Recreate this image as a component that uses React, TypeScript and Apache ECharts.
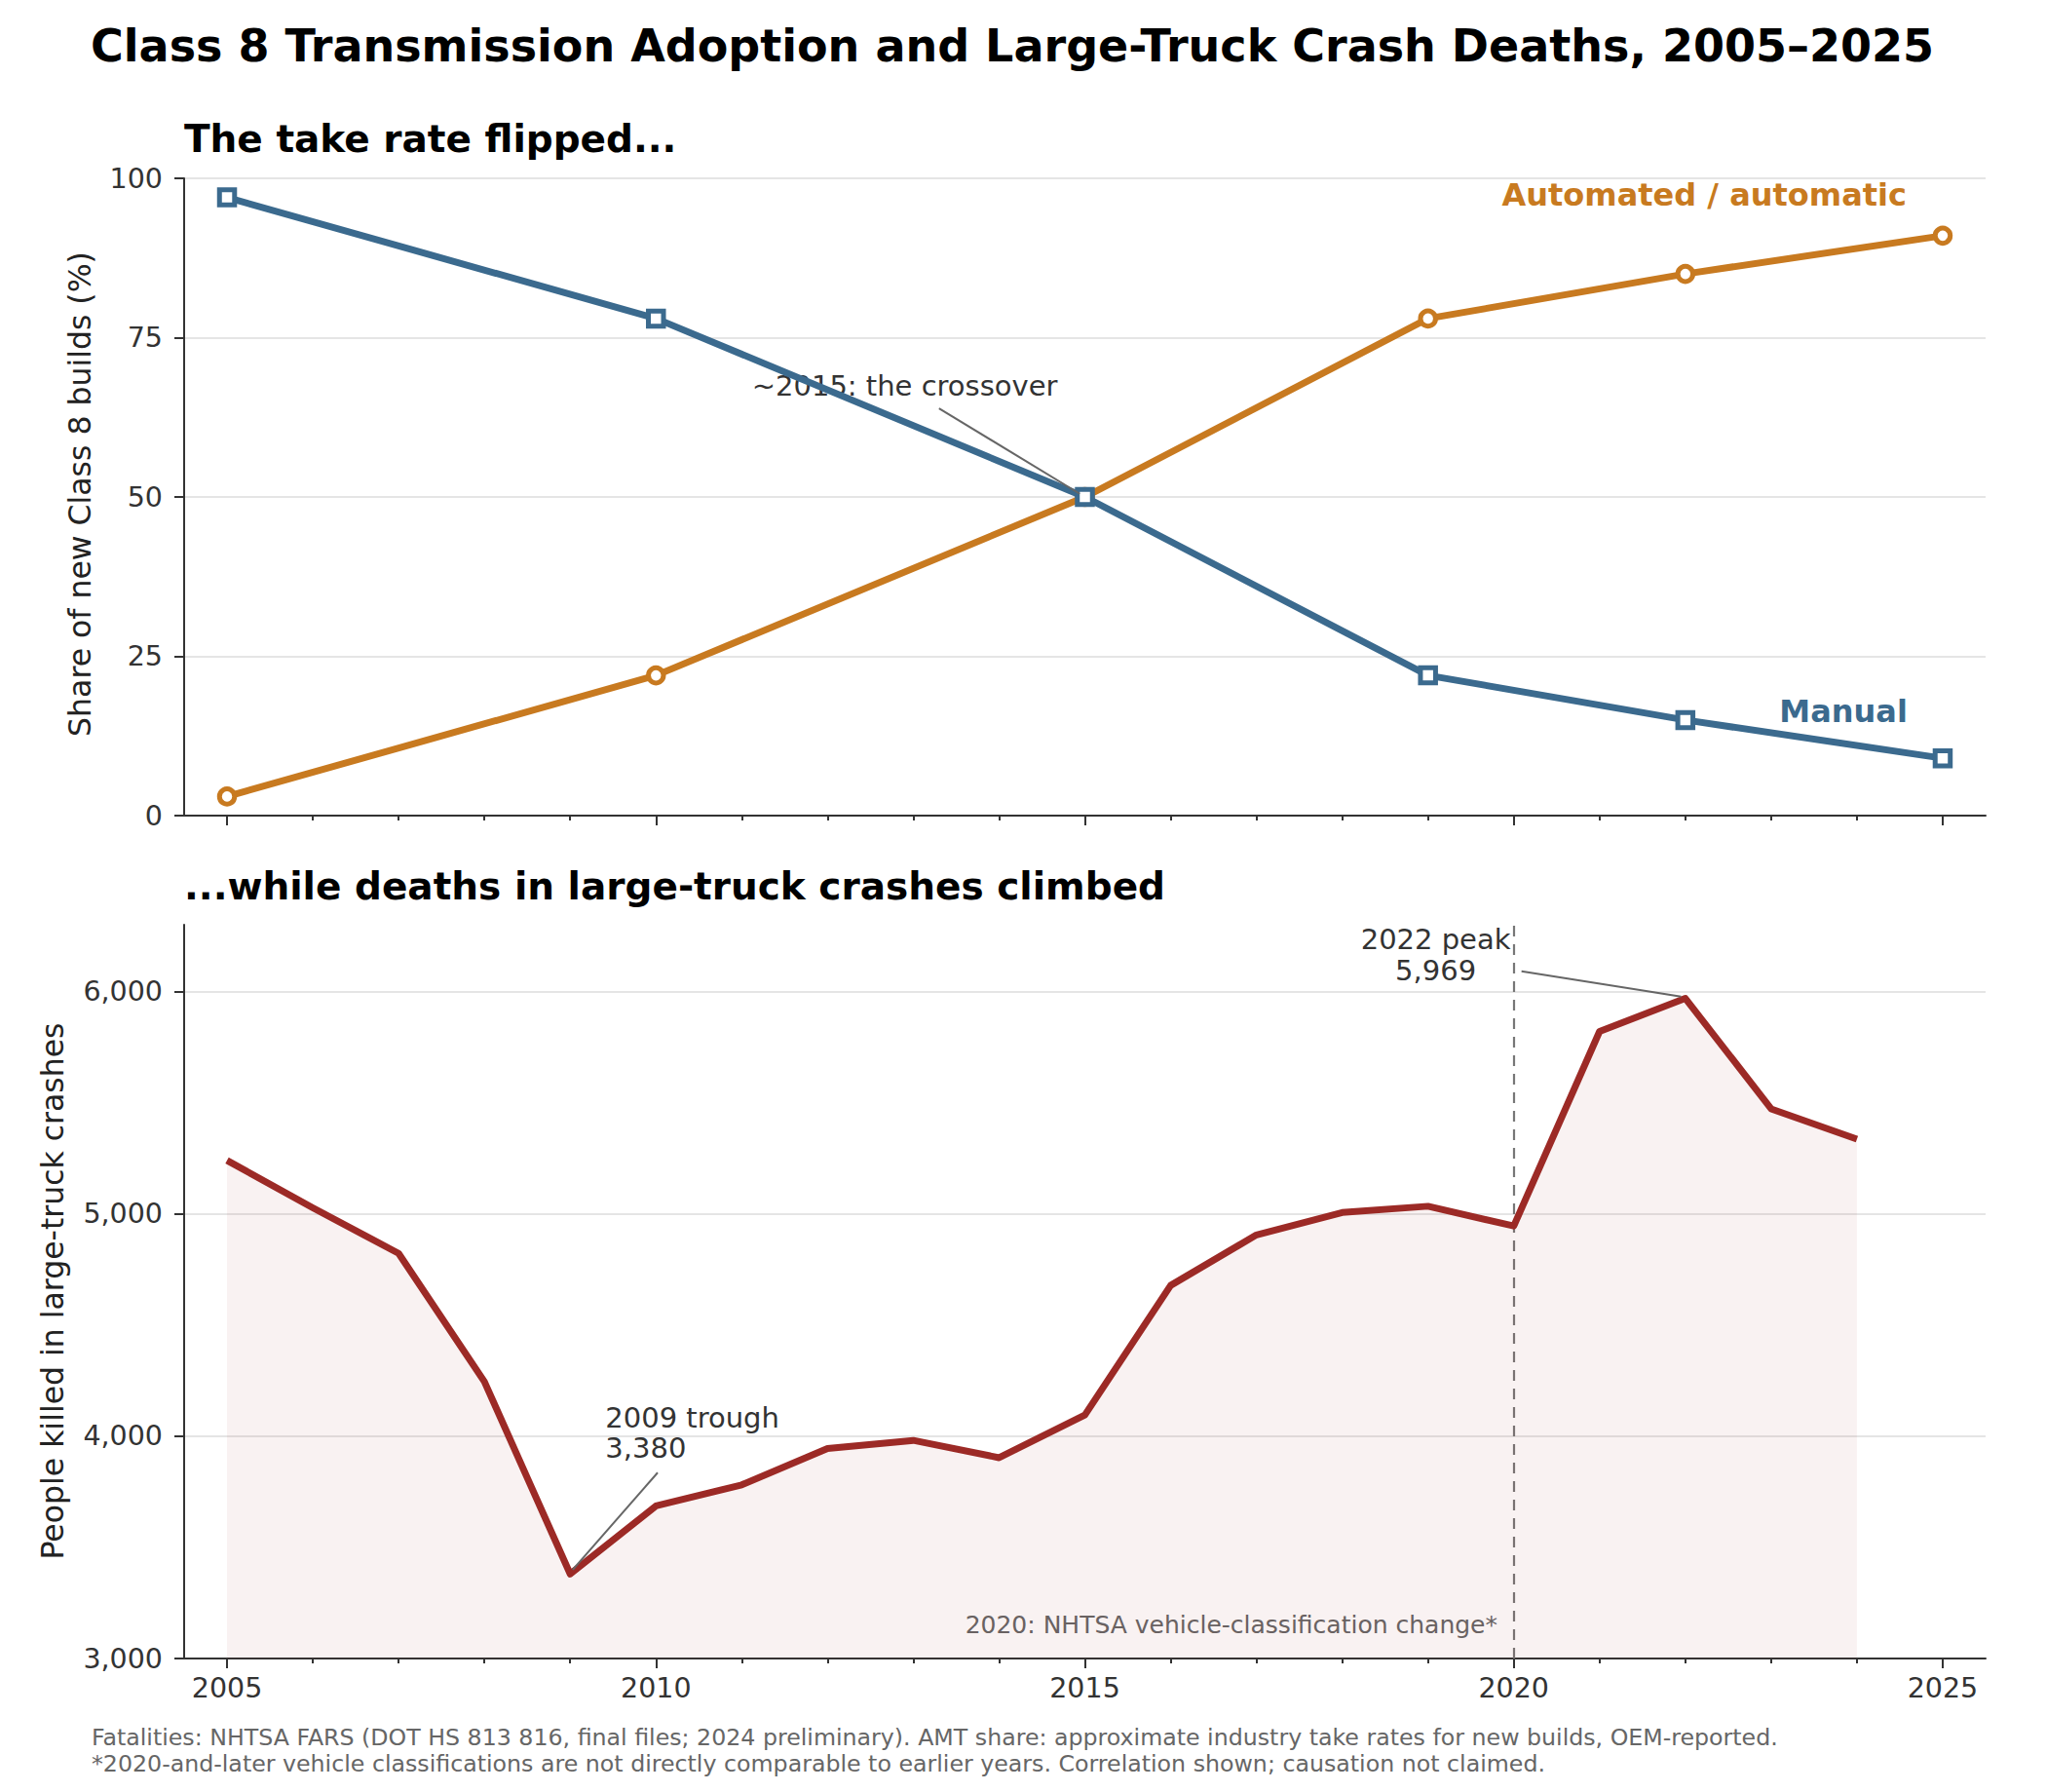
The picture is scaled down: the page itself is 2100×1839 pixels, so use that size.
import React, { useEffect, useRef } from "react";
import * as echarts from "echarts";

const W = 2100;
const H = 1839;

const shareYears = [2005, 2010, 2015, 2019, 2022, 2025];
const manualShare = [97, 78, 50, 22, 15, 9];
const automatedShare = [3, 22, 50, 78, 85, 91];

const deathYears = [2005, 2006, 2007, 2008, 2009, 2010, 2011, 2012, 2013, 2014, 2015, 2016, 2017, 2018, 2019, 2020, 2021, 2022, 2023, 2024];
const deaths = [5240, 5027, 4822, 4245, 3380, 3686, 3781, 3944, 3981, 3903, 4095, 4678, 4905, 5006, 5034, 4945, 5820, 5969, 5472, 5336];

const majorYearTicks = [2005, 2010, 2015, 2020, 2025];
const minorYearTicks = [2005, 2006, 2007, 2008, 2009, 2010, 2011, 2012, 2013, 2014, 2015, 2016, 2017, 2018, 2019, 2020, 2021, 2022, 2023, 2024, 2025];
const shareTicks = [0, 25, 50, 75, 100];
const deathTicks = [3000, 4000, 5000, 6000];

const FONT = '"DejaVu Sans", "Noto Sans", sans-serif';
const C_MANUAL = "#3b6a8e";
const C_AUTO = "#c87a20";
const C_DEATH = "#9c2a26";
const C_AXIS = "#333333";
const C_GRID = "#dddddd";
const C_ANN = "#666666";

const X_MIN = 2004.5;
const X_MAX = 2025.5;

function xAxes(gridIndex: number, showLabels: boolean) {
  const major = {
    type: "value",
    gridIndex,
    position: "bottom",
    min: X_MIN,
    max: X_MAX,
    axisLine: { show: true, onZero: false, lineStyle: { color: C_AXIS, width: 2 } },
    axisTick: { show: true, customValues: majorYearTicks, length: 10, lineStyle: { color: C_AXIS, width: 2 } },
    axisLabel: {
      show: showLabels,
      customValues: majorYearTicks,
      formatter: (v: number) => String(v),
      fontFamily: FONT,
      fontSize: 28.5,
      color: C_AXIS,
      margin: 16,
    },
    splitLine: { show: false },
  };
  const minor = {
    type: "value",
    gridIndex,
    position: "bottom",
    offset: 0,
    min: X_MIN,
    max: X_MAX,
    axisLine: { show: false, onZero: false },
    axisTick: { show: true, customValues: minorYearTicks, length: 5, lineStyle: { color: C_AXIS, width: 2 } },
    axisLabel: { show: false },
    splitLine: { show: false },
  };
  return [major, minor];
}

export default function App() {
  const ref = useRef<HTMLDivElement>(null);

  useEffect(() => {
    document.body.style.margin = "0";
    if (!ref.current) return;
    const chart = echarts.init(ref.current, undefined, { renderer: "svg", width: W, height: H });

    const option: any = {
      animation: false,
      backgroundColor: "#ffffff",
      grid: [
        { left: 189, top: 183, width: 1849, height: 654 },
        { left: 189, top: 949, width: 1849, height: 753 },
      ],
      xAxis: [...xAxes(0, false), ...xAxes(1, true)],
      yAxis: [
        {
          type: "value",
          gridIndex: 0,
          min: 0,
          max: 100,
          interval: 25,
          axisLine: { show: true, lineStyle: { color: C_AXIS, width: 2 } },
          axisTick: { show: true, length: 10, customValues: shareTicks, lineStyle: { color: C_AXIS, width: 2 } },
          axisLabel: { customValues: shareTicks, fontFamily: FONT, fontSize: 28.5, color: C_AXIS, margin: 22 },
          splitLine: { show: true, lineStyle: { color: C_GRID, width: 1.5 } },
        },
        {
          type: "value",
          gridIndex: 1,
          min: 3000,
          max: 6300,
          interval: 1000,
          axisLine: { show: true, lineStyle: { color: C_AXIS, width: 2 } },
          axisTick: { show: true, length: 10, customValues: deathTicks, lineStyle: { color: C_AXIS, width: 2 } },
          axisLabel: {
            customValues: deathTicks,
            formatter: (v: number) => v.toLocaleString("en-US"),
            fontFamily: FONT,
            fontSize: 28.5,
            color: C_AXIS,
            margin: 22,
          },
          splitLine: { show: true, lineStyle: { color: C_GRID, width: 1.5 } },
        },
      ],
      series: [
        {
          name: "Automated / automatic",
          type: "line",
          xAxisIndex: 0,
          yAxisIndex: 0,
          data: shareYears.map((y, i) => [y, automatedShare[i]]),
          symbol: "circle",
          symbolSize: 15.5,
          showSymbol: true,
          lineStyle: { color: C_AUTO, width: 7, join: "round" },
          itemStyle: { color: "#ffffff", borderColor: C_AUTO, borderWidth: 5 },
          z: 3,
        },
        {
          name: "Manual",
          type: "line",
          xAxisIndex: 0,
          yAxisIndex: 0,
          data: shareYears.map((y, i) => [y, manualShare[i]]),
          symbol: "rect",
          symbolSize: 15.5,
          showSymbol: true,
          lineStyle: { color: C_MANUAL, width: 7, join: "round" },
          itemStyle: { color: "#ffffff", borderColor: C_MANUAL, borderWidth: 5 },
          z: 4,
        },
        {
          name: "Deaths",
          type: "line",
          xAxisIndex: 2,
          yAxisIndex: 1,
          data: deathYears.map((y, i) => [y, deaths[i]]),
          symbol: "none",
          lineStyle: { color: C_DEATH, width: 7, join: "round" },
          areaStyle: { origin: "start", color: "rgba(156,42,38,0.085)" },
          z: 3,
          markLine: {
            silent: true,
            symbol: ["none", "none"],
            label: { show: false },
            lineStyle: { color: "#777777", width: 2.2, type: [11, 8] },
            data: [{ xAxis: 2020 }],
            z: 2,
          },
        },
      ],
    };
    chart.setOption(option);

    const top = (x: number, y: number) => chart.convertToPixel({ xAxisIndex: 0, yAxisIndex: 0 }, [x, y]) as number[];
    const bot = (x: number, y: number) => chart.convertToPixel({ xAxisIndex: 2, yAxisIndex: 1 }, [x, y]) as number[];

    const txt = (p: number[], text: string, font: string, fill: string, align: string) => ({
      type: "text",
      x: p[0],
      y: p[1],
      silent: true,
      style: { text, font, fill, align, verticalAlign: "middle" },
    });
    const seg = (a: number[], b: number[]) => ({
      type: "line",
      silent: true,
      shape: { x1: a[0], y1: a[1], x2: b[0], y2: b[1] },
      style: { stroke: C_ANN, lineWidth: 2 },
      z: 10,
    });

    const annFont = `29px ${FONT}`;
    const graphic: any[] = [
      // titles
      txt([1039, 47], "Class 8 Transmission Adoption and Large-Truck Crash Deaths, 2005\u20132025", `bold 46px ${FONT}`, "#000000", "center"),
      txt([189, 142], "The take rate flipped...", `bold 39px ${FONT}`, "#000000", "left"),
      txt([189, 909], "...while deaths in large-truck crashes climbed", `bold 39px ${FONT}`, "#000000", "left"),
      // y-axis names
      {
        type: "text",
        x: 82,
        y: 507,
        rotation: Math.PI / 2,
        silent: true,
        style: { text: "Share of new Class 8 builds (%)", font: `31.5px ${FONT}`, fill: "#222222", align: "center", verticalAlign: "middle" },
      },
      {
        type: "text",
        x: 54,
        y: 1325,
        rotation: Math.PI / 2,
        silent: true,
        style: { text: "People killed in large-truck crashes", font: `31.5px ${FONT}`, fill: "#222222", align: "center", verticalAlign: "middle" },
      },
      // top annotations
      txt(top(2024.58, 97.4), "Automated / automatic", `bold 32px ${FONT}`, C_AUTO, "right"),
      txt(top(2024.59, 16.4), "Manual", `bold 32px ${FONT}`, C_MANUAL, "right"),
      txt(top(2012.9, 67.4), "~2015: the crossover", annFont, "#333333", "center"),
      seg(top(2013.3, 63.9), top(2014.94, 50.5)),
      // bottom annotations
      txt(bot(2009.41, 4083), "2009 trough", annFont, "#333333", "left"),
      txt(bot(2009.41, 3947), "3,380", annFont, "#333333", "left"),
      seg(bot(2010.02, 3836), bot(2009.03, 3399)),
      txt(bot(2019.09, 6235), "2022 peak", annFont, "#333333", "center"),
      txt(bot(2019.09, 6095), "5,969", annFont, "#333333", "center"),
      seg(bot(2020.09, 6091), bot(2021.95, 5977)),
      txt(bot(2019.81, 3153), "2020: NHTSA vehicle-classification change*", `25px ${FONT}`, C_ANN, "right"),
      // footnote
      txt([94, 1783], "Fatalities: NHTSA FARS (DOT HS 813 816, final files; 2024 preliminary). AMT share: approximate industry take rates for new builds, OEM-reported.", `23.7px ${FONT}`, C_ANN, "left"),
      txt([94, 1810], "*2020-and-later vehicle classifications are not directly comparable to earlier years. Correlation shown; causation not claimed.", `23.7px ${FONT}`, C_ANN, "left"),
    ];
    chart.setOption({ graphic });

    return () => {
      chart.dispose();
    };
  }, []);

  return <div ref={ref} style={{ width: W, height: H, background: "#fff" }} />;
}
